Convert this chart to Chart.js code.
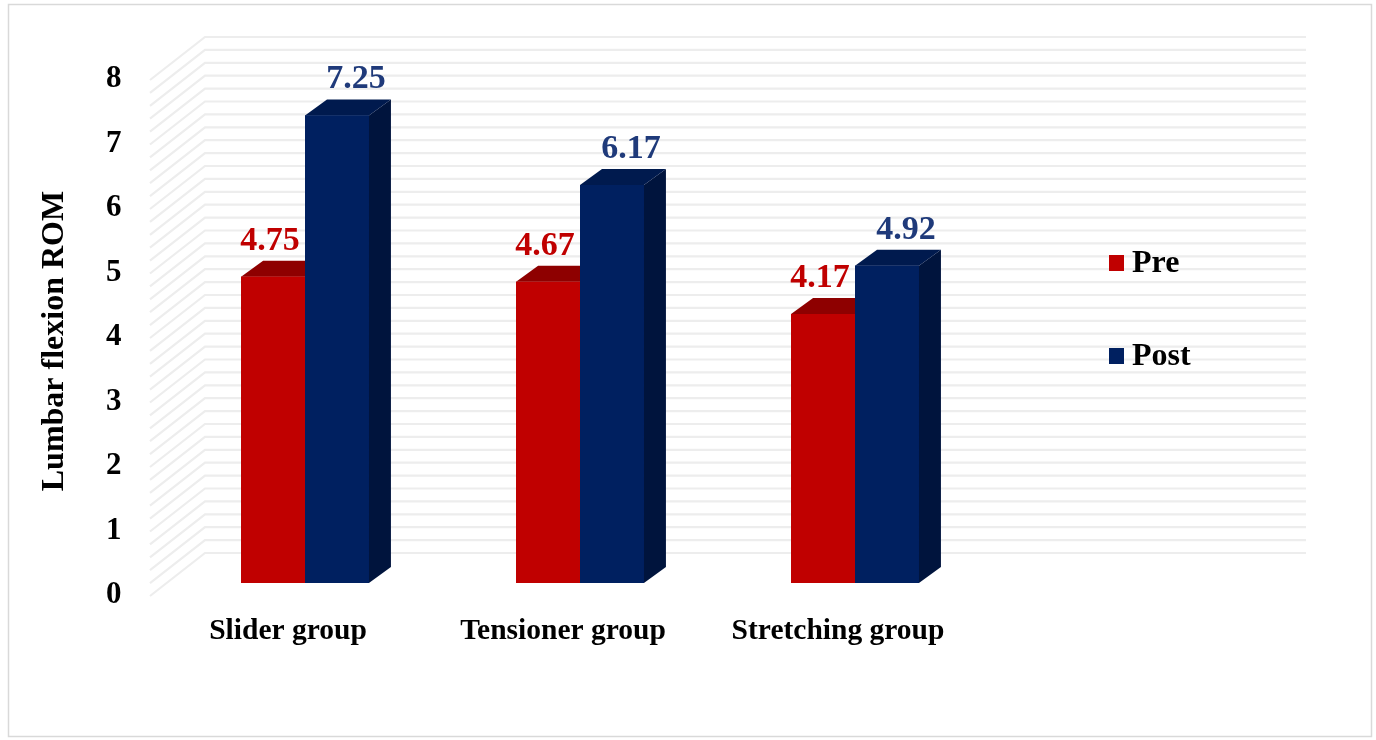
<!DOCTYPE html>
<html>
<head>
<meta charset="utf-8">
<script src="https://cdn.jsdelivr.net/npm/chart.js@4.4.1/dist/chart.umd.min.js"></script>
<style>
html,body{margin:0;padding:0;background:#fff;}
#wrap{position:relative;width:1376px;height:740px;}
canvas{position:absolute;left:0;top:0;}
</style>
</head>
<body>
<div id="wrap"><canvas id="c" width="1376" height="740"></canvas></div>
<script>
// ---- data ----
const categories = ['Slider group', 'Tensioner group', 'Stretching group'];
const seriesNames = ['Pre', 'Post'];
const preValues = [4.75, 4.67, 4.17];
const postValues = [7.25, 6.17, 4.92];
const yMin = 0, yMax = 8, yStep = 1, minorStep = 0.2;
const axisTitle = 'Lumbar flexion ROM';

// ---- styles ----
const FONT = '"Liberation Serif", "Times New Roman", serif';
const frontColors = ['#C00000', '#002060'];
const topColors = ['#8E0000', '#001A4E'];
const sideColors = ['#7A0000', '#00143D'];
const labelColors = ['#C00000', '#1F3A7A'];
const labelDx = [-3, 19];
const DEPTH = {dx: 22, dy: -16};
const WALL = {backDx: 37.5, backDy: -30, frontDx: -17.5, frontDy: 13};

const wallPlugin = {
  id: 'wall3d',
  beforeDatasetsDraw(chart) {
    const ctx = chart.ctx, ys = chart.scales.y, a = chart.chartArea;
    const wallRight = a.right + 313.5;
    ctx.save();
    ctx.strokeStyle = '#ededed';
    ctx.lineWidth = 2.2;
    const n = Math.round((yMax - yMin) / minorStep);
    for (let i = 0; i <= n; i++) {
      const v = yMin + i * minorStep;
      const y = ys.getPixelForValue(v);
      ctx.beginPath();
      ctx.moveTo(a.left + WALL.frontDx, y + WALL.frontDy);
      ctx.lineTo(a.left + WALL.backDx, y + WALL.backDy);
      ctx.lineTo(wallRight, y + WALL.backDy);
      ctx.stroke();
    }
    ctx.restore();
  },
  afterDatasetsDraw(chart) {
    const ctx = chart.ctx;
    const metas = chart.data.datasets.map((d, i) => chart.getDatasetMeta(i));
    ctx.save();
    for (let c = 0; c < categories.length; c++) {
      metas.forEach((meta, di) => {
        const el = meta.data[c];
        const x0 = el.x - el.width / 2, x1 = el.x + el.width / 2;
        const yt = el.y, yb = el.base;
        ctx.fillStyle = sideColors[di];
        ctx.beginPath();
        ctx.moveTo(x1, yt); ctx.lineTo(x1 + DEPTH.dx, yt + DEPTH.dy);
        ctx.lineTo(x1 + DEPTH.dx, yb + DEPTH.dy); ctx.lineTo(x1, yb);
        ctx.closePath(); ctx.fill();
        ctx.fillStyle = topColors[di];
        ctx.beginPath();
        ctx.moveTo(x0, yt); ctx.lineTo(x0 + DEPTH.dx, yt + DEPTH.dy);
        ctx.lineTo(x1 + DEPTH.dx, yt + DEPTH.dy); ctx.lineTo(x1, yt);
        ctx.closePath(); ctx.fill();
        ctx.fillStyle = frontColors[di];
        ctx.fillRect(x0, yt, x1 - x0, yb - yt);
      });
    }
    ctx.font = 'bold 34px ' + FONT;
    ctx.textAlign = 'center';
    ctx.textBaseline = 'alphabetic';
    metas.forEach((meta, di) => {
      const vals = chart.data.datasets[di].data;
      meta.data.forEach((el, c) => {
        ctx.fillStyle = labelColors[di];
        ctx.fillText(vals[c].toFixed(2), el.x + labelDx[di], el.y + DEPTH.dy - 11);
      });
    });
    ctx.restore();
  },
  afterDraw(chart) {
    const ctx = chart.ctx, a = chart.chartArea;
    ctx.save();
    ctx.font = 'bold 32px ' + FONT;
    ctx.fillStyle = '#000';
    ctx.textAlign = 'center';
    ctx.textBaseline = 'middle';
    ctx.translate(55, (a.top + a.bottom) / 2 + 16);
    ctx.rotate(-Math.PI / 2);
    ctx.fillText(axisTitle, 0, 0);
    ctx.restore();
    ctx.save();
    ctx.font = 'bold 32px ' + FONT;
    ctx.textBaseline = 'alphabetic';
    ctx.textAlign = 'left';
    chart.data.datasets.forEach((ds, i) => {
      const baseY = 272 + i * 93;
      ctx.fillStyle = ds.backgroundColor;
      ctx.fillRect(1109, baseY - 17, 15, 16);
      ctx.fillStyle = '#000';
      ctx.fillText(ds.label, 1132, baseY);
    });
    ctx.strokeStyle = '#d9d9d9';
    ctx.lineWidth = 1.5;
    ctx.strokeRect(8.5, 4.5, 1363, 732);
    ctx.restore();
  }
};

new Chart(document.getElementById('c'), {
  type: 'bar',
  data: {
    labels: categories,
    datasets: [
      {label: seriesNames[0], data: preValues, backgroundColor: frontColors[0]},
      {label: seriesNames[1], data: postValues, backgroundColor: frontColors[1]}
    ]
  },
  options: {
    responsive: false,
    animation: false,
    devicePixelRatio: 1,
    layout: {padding: {top: 67, right: 383.5, left: 0, bottom: 0}},
    plugins: {legend: {display: false}, tooltip: {enabled: false}},
    datasets: {bar: {barPercentage: 1, categoryPercentage: 0.465}},
    scales: {
      x: {
        type: 'category',
        offset: true,
        grid: {display: false, drawTicks: false},
        border: {display: false},
        ticks: {
          font: {family: FONT, size: 29.5, weight: 'bold'},
          color: '#000',
          labelOffset: -17,
          padding: 31,
          maxRotation: 0,
          autoSkip: false
        },
        afterFit(s) { s.height = 157; }
      },
      y: {
        min: yMin, max: yMax,
        grid: {display: false, drawTicks: false},
        border: {display: false},
        ticks: {
          stepSize: yStep,
          font: {family: FONT, size: 31, weight: 'bold'},
          color: '#000',
          padding: 46,
          labelOffset: 12
        },
        afterFit(s) { s.width = 167.5; }
      }
    }
  },
  plugins: [wallPlugin]
});
</script>
</body>
</html>
